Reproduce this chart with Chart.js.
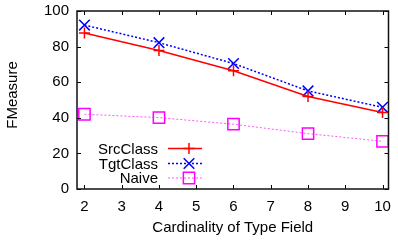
<!DOCTYPE html>
<html>
<head>
<meta charset="utf-8">
<script src="https://cdn.jsdelivr.net/npm/chart.js@4"></script>
<style>
html,body{margin:0;padding:0;background:#fff;}
#wrap{position:relative;width:398px;height:242px;}
</style>
</head>
<body>
<div id="wrap"><canvas id="c" width="398" height="242"></canvas></div>
<script>
const cardinality = [2, 4, 6, 8, 10];
const srcClass = [87.6, 77.8, 66.4, 52.0, 43.0];
const tgtClass = [92.1, 82.2, 70.5, 55.1, 45.9];
const naive = [42.0, 40.1, 36.4, 31.1, 26.8];
const seriesNames = ['SrcClass', 'TgtClass', 'Naive'];
const xTicks = [2, 3, 4, 5, 6, 7, 8, 9, 10];
const yTicks = [0, 20, 40, 60, 80, 100];
const xTitle = 'Cardinality of Type Field';
const yTitle = 'FMeasure';

const FONT = 'Liberation Sans, Arial, sans-serif';
const NARROW = '"Liberation Sans Narrow", "Arial Narrow", Liberation Sans, sans-serif';

const pts = arr => cardinality.map((x, i) => ({x: x, y: arr[i]}));

const frame = {
  id: 'frame',
  afterDatasetsDraw(chart) {
    const {ctx, chartArea: a, scales} = chart;
    ctx.save();
    ctx.strokeStyle = '#000';
    ctx.lineWidth = 1;
    const t = 4;
    ctx.beginPath();
    xTicks.forEach(v => {
      const x = Math.round(scales.x.getPixelForValue(v)) + 0.5;
      ctx.moveTo(x, a.bottom); ctx.lineTo(x, a.bottom - t);
      ctx.moveTo(x, a.top); ctx.lineTo(x, a.top + t);
    });
    yTicks.forEach(v => {
      const y = Math.round(scales.y.getPixelForValue(v)) + 0.5;
      ctx.moveTo(a.left, y); ctx.lineTo(a.left + t, y);
      ctx.moveTo(a.right, y); ctx.lineTo(a.right - t, y);
    });
    ctx.stroke();
    ctx.lineWidth = 1.5;
    ctx.strokeStyle = '#111';
    ctx.strokeRect(a.left, a.top, a.right - a.left, a.bottom - a.top);
    // rotated y title
    ctx.fillStyle = '#000';
    ctx.font = '15px ' + NARROW;
    ctx.textAlign = 'center';
    ctx.textBaseline = 'middle';
    ctx.translate(13, 95);
    ctx.rotate(-Math.PI / 2);
    ctx.fillText(yTitle, 0, 0);
    ctx.restore();
  }
};

const legendPlugin = {
  id: 'customLegend',
  afterDatasetsDraw(chart) {
    const {ctx} = chart;
    ctx.save();
    ctx.font = '15px ' + FONT;
    ctx.textAlign = 'right';
    ctx.textBaseline = 'middle';
    const rows = [148.5, 163.5, 178];
    chart.data.datasets.forEach((ds, i) => {
      const y = rows[i];
      ctx.fillStyle = '#000';
      ctx.fillText(ds.label, 158, y + 1);
      ctx.strokeStyle = ds.borderColor;
      ctx.lineWidth = ds.borderWidth;
      ctx.setLineDash(ds.borderDash || []);
      ctx.beginPath();
      ctx.moveTo(168, y); ctx.lineTo(202, y);
      ctx.stroke();
      ctx.setLineDash([]);
      ctx.strokeStyle = ds.pointBorderColor;
      ctx.fillStyle = 'rgba(0,0,0,0)';
      ctx.lineWidth = ds.pointBorderWidth;
      Chart.helpers.drawPoint(ctx, {
        pointStyle: ds.pointStyle,
        radius: ds.pointRadius,
        borderWidth: ds.pointBorderWidth,
        rotation: 0
      }, 189, y);
    });
    ctx.restore();
  }
};

new Chart(document.getElementById('c'), {
  type: 'line',
  data: {
    datasets: [
      {
        label: seriesNames[0],
        data: pts(srcClass),
        borderColor: '#ff0000',
        backgroundColor: 'rgba(0,0,0,0)',
        borderWidth: 1.5,
        pointStyle: 'cross',
        pointRadius: 5.5,
        pointBorderWidth: 1.5,
        pointBorderColor: '#ff0000'
      },
      {
        label: seriesNames[1],
        data: pts(tgtClass),
        borderColor: '#0000ff',
        backgroundColor: 'rgba(0,0,0,0)',
        borderWidth: 1.5,
        borderDash: [2, 2],
        pointStyle: 'crossRot',
        pointRadius: 7.5,
        pointBorderWidth: 1.5,
        pointBorderColor: '#0000ff'
      },
      {
        label: seriesNames[2],
        data: pts(naive),
        borderColor: '#ff55ff',
        backgroundColor: 'rgba(0,0,0,0)',
        borderWidth: 1,
        borderDash: [2, 2],
        pointStyle: 'rect',
        pointRadius: 8,
        pointBorderWidth: 1.5,
        pointBorderColor: '#ff00ff'
      }
    ]
  },
  options: {
    responsive: false,
    animation: false,
    devicePixelRatio: 1,
    layout: {padding: {top: 11, right: 5, left: 0, bottom: 0}},
    plugins: {legend: {display: false}, tooltip: {enabled: false}},
    elements: {line: {tension: 0}},
    scales: {
      x: {
        type: 'linear',
        min: 1.8,
        max: 10.16,
        afterBuildTicks(s) { s.ticks = xTicks.map(v => ({value: v})); },
        afterFit(s) { s.height = 53; s.paddingLeft = 0; s.paddingRight = 0; },
        grid: {display: false, drawTicks: false},
        border: {display: false},
        ticks: {color: '#000', font: {family: FONT, size: 15}, padding: 9, maxRotation: 0},
        title: {display: true, text: xTitle, color: '#000',
                font: {family: FONT, size: 15}, padding: {top: 4, bottom: 5}}
      },
      y: {
        min: 0,
        max: 100,
        afterBuildTicks(s) { s.ticks = yTicks.map(v => ({value: v})); },
        afterFit(s) { s.width = 77; s.paddingTop = 0; s.paddingBottom = 0; },
        grid: {display: false, drawTicks: false},
        border: {display: false},
        ticks: {color: '#000', font: {family: FONT, size: 15}, padding: 8},
        title: {display: false}
      }
    }
  },
  plugins: [frame, legendPlugin]
});
</script>
</body>
</html>
